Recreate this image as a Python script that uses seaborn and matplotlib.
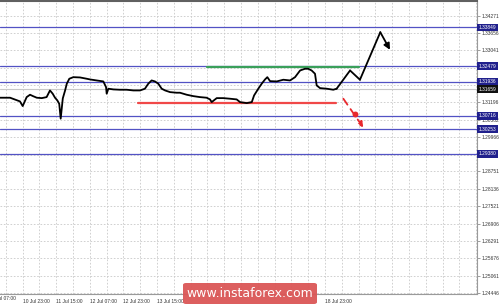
import numpy as np
import pandas as pd
import matplotlib
matplotlib.use("Agg")
import matplotlib.pyplot as plt
import matplotlib.transforms as mtransforms
from matplotlib.patches import FancyBboxPatch
import seaborn as sns

# ---------------- data ----------------
bars = [0, 4.8, 9.5, 10.8, 12.7, 14.3, 15.7, 17.5, 19.9, 22.2, 23.8, 25.1, 26.2, 27.3,
        28.2, 28.9, 29.9, 31.0, 31.8, 33.0, 34.9, 38.1, 41.3, 42.9, 46.0, 49.2, 50.5,
        50.8, 51.6, 54.0, 57.1, 60.3, 63.5, 66.7, 69.0, 70.6, 72.2, 73.8, 75.4, 77.0,
        78.6, 81.0, 84.1, 85.7, 88.9, 92.0, 95.2, 98.4, 100.0, 100.8, 103.2, 106.3,
        109.5, 112.7, 114.3, 117.5, 119.9, 121.0, 123.0, 124.6, 126.2, 127.3, 128.6,
        131.8, 134.9, 138.1, 140.5, 142.9, 145.2, 146.8, 148.4, 150.0, 150.8, 152.4,
        155.6, 158.7, 160.3]
close = [1.31362, 1.31362, 1.31232, 1.31066, 1.31384, 1.31468, 1.31419, 1.31362,
         1.31348, 1.31384, 1.31620, 1.31504, 1.31362, 1.31267, 1.31150, 1.30620,
         1.31338, 1.31620, 1.31857, 1.32034, 1.32090, 1.32080, 1.32034, 1.32009,
         1.31974, 1.31939, 1.31737, 1.31504, 1.31681, 1.31656, 1.31645, 1.31645,
         1.31620, 1.31620, 1.31681, 1.31857, 1.31974, 1.31939, 1.31857, 1.31681,
         1.31620, 1.31560, 1.31539, 1.31539, 1.31468, 1.31419, 1.31384, 1.31362,
         1.31302, 1.31207, 1.31348, 1.31348, 1.31327, 1.31302, 1.31207, 1.31172,
         1.31207, 1.31444, 1.31681, 1.31857, 1.32009, 1.32090, 1.31949, 1.31939,
         1.31999, 1.31974, 1.32090, 1.32327, 1.32387, 1.32387, 1.32327, 1.32211,
         1.31797, 1.31702, 1.31681, 1.31645, 1.31681]

fc_bars = [160.3, 166.7, 171.4, 181.1, 185.7]
fc_price = [1.31681, 1.32327, 1.31999, 1.33681, 1.33059]

down_bars = [163.5, 173.0]
down_price = [1.31327, 1.30302]
dot_bar, dot_price = 169.0, 1.30772

level_prices = [1.33849, 1.32479, 1.31936, 1.30716, 1.30253, 1.29380]
level_labels = ["1.33849", "1.32479", "1.31936", "1.30716", "1.30253", "1.29380"]
current_price = 1.31659
current_label = "1.31659"

resistance_price, resistance_span = 1.32433, (98.7, 171.0)
support_price, support_span = 1.31179, (65.6, 160.0)

ytick_vals = [1.34271, 1.33656, 1.33041, 1.32426, 1.31811, 1.31196, 1.30582, 1.29966,
              1.29351, 1.28751, 1.28136, 1.27521, 1.26906, 1.26291, 1.25676, 1.25061,
              1.24446]
# labels hidden under the level boxes are blank
ytick_labels = ["1.34271", "1.33656", "1.33041", "", "", "1.31196",
                "1.30582", "1.29966", "", "1.28751", "1.28136", "1.27521",
                "1.26906", "1.26291", "1.25676", "1.25061", "1.24446"]

# labels hidden under the watermark are blank
xtick_labels = ["10 Jul 07:00", "10 Jul 23:00", "11 Jul 15:00", "12 Jul 07:00",
                "12 Jul 23:00", "13 Jul 15:00", "", "", "", "", "18 Jul 23:00"]
watermark = "www.instaforex.com"

# ---------------- style ----------------
sns.set_style("white")
plt.rcParams["font.family"] = ["Liberation Sans", "DejaVu Sans"]

W, H = 500, 306
fig = plt.figure(figsize=(W / 100, H / 100), dpi=100)
fig.patch.set_facecolor("white")
ax = fig.add_axes([0, 1 - 294 / H, 477 / W, 294 / H - 0.002])
ax.set_facecolor("white")

XMAX = 477 / 2.1
ax.set_xlim(0, XMAX)
ax.set_ylim(1.24411, 1.34801)

# grid
for gx in np.arange(2.8, XMAX, 8):
    ax.axvline(gx, color="#c9c9c9", lw=0.6, ls=(0, (2, 2)), zorder=0)
for gy in ytick_vals:
    ax.axhline(gy, color="#c9c9c9", lw=0.6, ls=(0, (2, 2)), zorder=0)

# levels
BLUE = "#5252c4"
for p in level_prices:
    ax.axhline(p, color=BLUE, lw=0.9, zorder=1)
ax.axhline(current_price, color="#c8c8c8", lw=0.8, zorder=1)

# support / resistance
ax.plot(resistance_span, [resistance_price] * 2, color="#3aa05a", lw=1.6, zorder=2)
ax.plot(support_span, [support_price] * 2, color="#f04848", lw=1.6, zorder=2)

# price
df = pd.DataFrame({"bar": bars, "close": close})
sns.lineplot(data=df, x="bar", y="close", color="black", lw=1.3, ax=ax, zorder=3,
             sort=False)

# forecast (black)
ax.plot(fc_bars[:-1], fc_price[:-1], color="black", lw=1.3, zorder=4,
        solid_capstyle="round", solid_joinstyle="miter")
ax.annotate("", xy=(fc_bars[-1], fc_price[-1]), xytext=(fc_bars[-2], fc_price[-2]),
            arrowprops=dict(arrowstyle="-|>", color="black", lw=1.3,
                            mutation_scale=9, shrinkA=0, shrinkB=0), zorder=4)

# forecast (red dashed)
ax.annotate("", xy=(down_bars[1], down_price[1]), xytext=(down_bars[0], down_price[0]),
            arrowprops=dict(arrowstyle="-|>", color="#e8282d", lw=1.3, ls=(0, (4, 3)),
                            mutation_scale=8, shrinkA=0, shrinkB=0), zorder=4)
ax.scatter([dot_bar], [dot_price], s=18, color="#e8282d", zorder=5, linewidths=0)

# axes decorations
ax.spines["left"].set_visible(False)
ax.spines["top"].set_color("#606060")
ax.spines["top"].set_linewidth(1.5)
ax.spines["right"].set_color("#9a9a9a")
ax.spines["bottom"].set_color("#9a9a9a")
ax.spines["right"].set_linewidth(0.8)
ax.spines["bottom"].set_linewidth(0.8)

ax.yaxis.tick_right()
ax.set_yticks(ytick_vals)
ax.set_yticklabels(ytick_labels)
ax.tick_params(axis="y", length=2, width=0.5, color="#777777", labelsize=3.5, pad=1.5,
               labelcolor="#333333")

first_pos = -5.2
xt_pos = [first_pos + 16 * i for i in range(len(xtick_labels))]
vis = [(p, l) for p, l in zip(xt_pos, xtick_labels) if p >= 0]
ax.set_xticks([p for p, _ in vis])
ax.set_xticklabels([l for _, l in vis], ha="left")
ax.tick_params(axis="x", length=2, width=0.5, color="#777777", labelsize=3.5, pad=1.5,
               labelcolor="#333333")
ax.text(xt_pos[0], -0.008, xtick_labels[0], transform=mtransforms.blended_transform_factory(
    ax.transData, ax.transAxes), fontsize=3.5, color="#333333", ha="left", va="top",
    clip_on=False)
ax.set_xlabel("")
ax.set_ylabel("")

# right-side level labels
trans = mtransforms.blended_transform_factory(ax.transAxes, ax.transData)
for p, l in zip(level_prices, level_labels):
    ax.text(1.004, p, l, transform=trans, fontsize=3.5, color="white", ha="left",
            va="center", clip_on=False, zorder=6,
            bbox=dict(boxstyle="square,pad=0.3", fc="#20208c", ec="none"))
ax.text(1.004, current_price, current_label, transform=trans, fontsize=3.5, color="white",
        ha="left", va="center", clip_on=False, zorder=6,
        bbox=dict(boxstyle="square,pad=0.3", fc="#111111", ec="none"))

# watermark
box = FancyBboxPatch((183 / W, 1 - 304 / H), 134 / W, 21 / H,
                     boxstyle="round,pad=0,rounding_size=0.006",
                     transform=fig.transFigure, fc="#db5656", ec="none", alpha=0.95,
                     zorder=10)
fig.patches.append(box)
fig.text(250 / W, 1 - 293.5 / H, watermark, color="white", fontsize=9,
         ha="center", va="center", zorder=11, family="DejaVu Sans")

fig.savefig("out.png", dpi=100, facecolor="white")
